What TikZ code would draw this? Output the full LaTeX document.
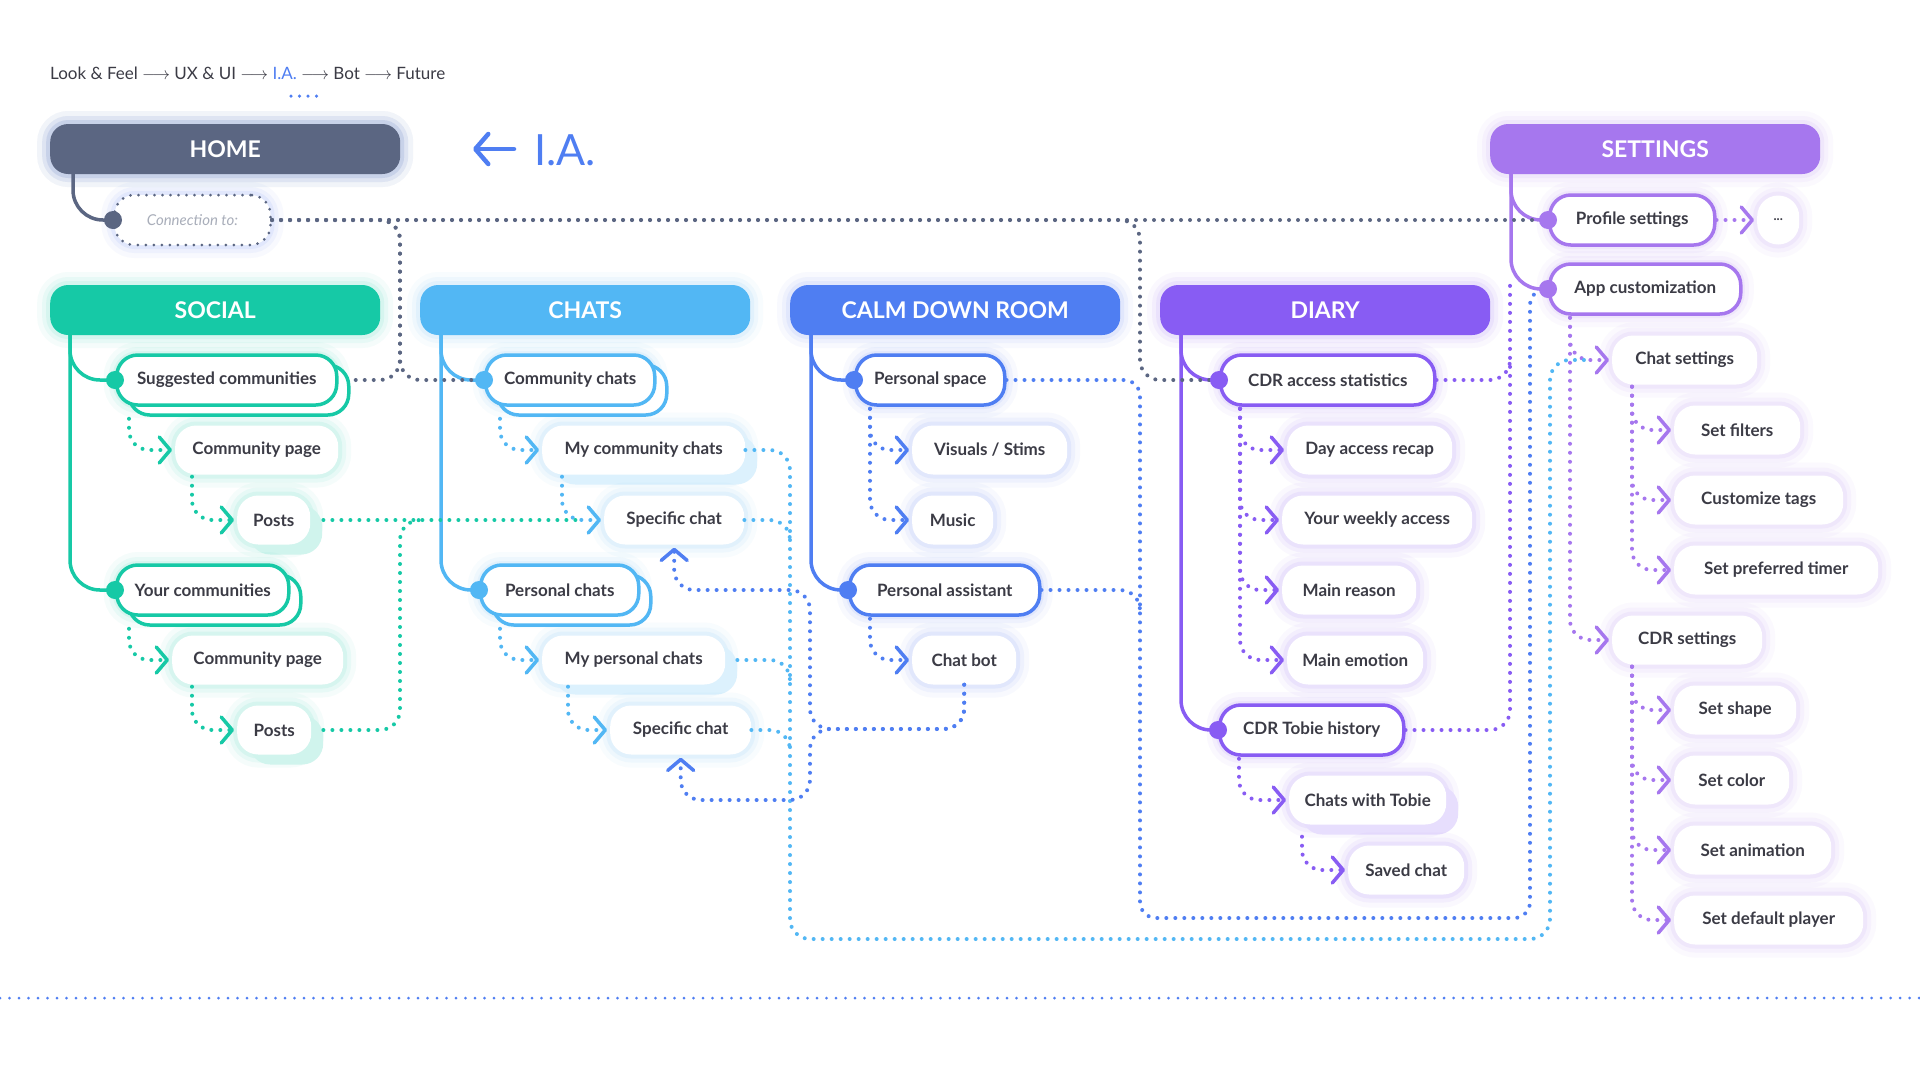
\documentclass[tikz,border=0pt]{standalone}
\usepackage{fontspec}
\setmainfont{Lato}
\usetikzlibrary{arrows.meta,shadows}

\definecolor{homec}{HTML}{5B6682}
\definecolor{socialc}{HTML}{16C9A6}
\definecolor{chatsc}{HTML}{52B7F4}
\definecolor{calmc}{HTML}{4F7EF2}
\definecolor{diaryc}{HTML}{885CF3}
\definecolor{setc}{HTML}{A677EE}
\definecolor{txt}{HTML}{3B3B45}
\definecolor{connt}{HTML}{A9AEBA}

\newcommand\hdrfont{\fontsize{23}{23}\selectfont\bfseries}
\newcommand\lblfont{\fontsize{17}{17}\selectfont\bfseries}

\tikzset{
  glow/.style={preaction={draw=#1, solid, line width=26pt, opacity=.04},
    preaction={draw=#1, solid, line width=16pt, opacity=.06},
    preaction={draw=#1, solid, line width=8pt, opacity=.08}},
  hdr/.style={fill=#1, glow=#1, rounded corners=18pt, anchor=west,
    minimum width=330pt, minimum height=50pt, text=white, font=\hdrfont},
  lvA/.style={draw=#1, line width=3.5pt, fill=white, glow=#1, rounded corners=21pt,
    anchor=west, minimum height=50pt, text=txt, font=\lblfont},
  lvB/.style={fill=white, glow=#1, rounded corners=21pt, anchor=west,
    minimum height=49pt, text=txt, font=\lblfont},
  stackA/.style={copy shadow={shadow xshift=12pt, shadow yshift=-10pt}},
  stackB/.style={copy shadow={shadow xshift=12pt, shadow yshift=-10pt, draw=none, fill=#1!20}},
  stem/.style={draw=#1, line width=3.5pt, rounded corners=30pt},
  dotln/.style={draw=#1, line width=4pt, line cap=round, dash pattern=on 0pt off 9pt},
  sub/.style={dotln=#1, ->, rounded corners=20pt},
}

\begin{document}
\begin{tikzpicture}[x=1pt, y=-1pt, >={Straight Barb[length=11pt,width=26pt,line width=3.5pt,round]}]
\useasboundingbox (0,0) rectangle (1920,1080);
\fill[white] (0,0) rectangle (1920,1080);

% top line
\node[anchor=west, inner sep=0pt, text=txt, font=\fontsize{17}{17}\selectfont] (crumb) at (50,73)
  {Look \& Feel $\longrightarrow$ UX \& UI $\longrightarrow$ \textcolor{calmc}{I.A.} $\longrightarrow$ Bot $\longrightarrow$ Future};
\draw[dotln=calmc, line width=3.5pt, dash pattern=on 0pt off 8.5pt] (291,96) -- (317,96);

\node[anchor=west, inner sep=0pt, text=calmc, font=\fontsize{43}{43}\selectfont] (ia) at (534,150) {I.A.};
\coordinate (ial) at (473,149);
\coordinate (iar) at (514,149);
\draw[calmc, line width=4.5pt, line cap=round, {Straight Barb[length=13pt,width=30pt,line width=4.5pt,round]}-] (ial) -- (iar);

% headers
\node[hdr=homec, glow=calmc, minimum width=350pt] (home) at (50,149) {HOME};
\node[hdr=setc] (settings) at (1490,149) {SETTINGS};
\node[hdr=socialc] (social) at (50,310) {SOCIAL};
\node[hdr=chatsc] (chats) at (420,310) {CHATS};
\node[hdr=calmc] (calm) at (790,310) {CALM DOWN ROOM};
\node[hdr=diaryc] (diary) at (1160,310) {DIARY};

\node[draw=homec, line width=3pt, line cap=round, dash pattern=on 0pt off 8pt, fill=white, glow=calmc,
  rounded corners=20pt, anchor=west, minimum width=156pt, minimum height=50pt, text=connt,
  font=\fontsize{15}{15}\selectfont\itshape] (conn) at (113,220) {Connection to:};

% social
\node[lvA=socialc, stackA, minimum width=220pt] (sugg) at (115,380) {Suggested communities};
\node[lvB=socialc, minimum width=163pt] (scp1) at (175,450) {Community page};
\node[lvB=socialc, stackB=socialc, minimum width=73pt] (spo1) at (237,520) {Posts};
\node[lvA=socialc, stackA, minimum width=172pt] (your) at (115,590) {Your communities};
\node[lvB=socialc, minimum width=171pt] (scp2) at (172,660) {Community page};
\node[lvB=socialc, stackB=socialc, minimum width=74pt] (spo2) at (237,730) {Posts};

% chats
\node[lvA=chatsc, stackA, minimum width=169pt] (ccom) at (484,380) {Community chats};
\node[lvB=chatsc, stackB=chatsc, minimum width=203pt] (cmy) at (542,450) {My community chats};
\node[lvB=chatsc, minimum width=140pt] (csp1) at (604,520) {Specific chat};
\node[lvA=chatsc, stackA, minimum width=158pt] (cper) at (479,590) {Personal chats};
\node[lvB=chatsc, stackB=chatsc, minimum width=183pt] (cmyp) at (542,660) {My personal chats};
\node[lvB=chatsc, minimum width=141pt] (csp2) at (610,730) {Specific chat};

% calm down room
\node[lvA=calmc, minimum width=149pt] (cps) at (854,380) {Personal space};
\node[lvB=calmc, minimum width=155pt] (cvis) at (912,450) {Visuals / Stims};
\node[lvB=calmc, minimum width=81pt] (cmus) at (912,520) {Music};
\node[lvA=calmc, minimum width=190pt] (cpa) at (848,590) {Personal assistant};
\node[lvB=calmc, minimum width=104pt] (cbot) at (912,660) {Chat bot};

% diary
\node[lvA=diaryc, minimum width=214pt] (dstat) at (1219,380) {CDR access statistics};
\node[lvB=diaryc, minimum width=165pt] (dday) at (1287,450) {Day access recap};
\node[lvB=diaryc, minimum width=190pt] (dweek) at (1282,520) {Your weekly access};
\node[lvB=diaryc, minimum width=134pt] (dreas) at (1282,590) {Main reason};
\node[lvB=diaryc, minimum width=136pt] (demo) at (1287,660) {Main emotion};
\node[lvA=diaryc, minimum width=184pt] (dtob) at (1218,730) {CDR Tobie history};
\node[lvB=diaryc, stackB=diaryc, minimum width=157pt] (dchat) at (1289,800) {Chats with Tobie};
\node[lvB=diaryc, minimum width=116pt] (dsave) at (1348,870) {Saved chat};

% settings
\node[lvA=setc, minimum width=165pt] (prof) at (1548,220) {Profile settings};
\node[lvB=setc, minimum width=42pt, font=\fontsize{13}{13}\selectfont\bfseries] (more) at (1757,220) {...};
\node[lvA=setc, minimum width=191pt] (appc) at (1548,289) {App customization};
\node[lvB=setc, minimum width=145pt] (chatset) at (1612,360) {Chat settings};
\node[lvB=setc, minimum width=126pt] (filt) at (1674,430) {Set filters};
\node[lvB=setc, minimum width=169pt] (tags) at (1674,500) {Customize tags};
\node[lvB=setc, minimum width=204pt] (timer) at (1674,570) {Set preferred timer};
\node[lvB=setc, minimum width=150pt] (cdrset) at (1612,640) {CDR settings};
\node[lvB=setc, minimum width=122pt] (shape) at (1674,710) {Set shape};
\node[lvB=setc, minimum width=115pt] (color) at (1674,780) {Set color};
\node[lvB=setc, minimum width=157pt] (anim) at (1674,850) {Set animation};
\node[lvB=setc, minimum width=189pt] (player) at (1674,920) {Set default player};

% junctions
\coordinate (gj1) at (400,380);
\coordinate (gj2) at (1140,380);
\coordinate (tj1) at (400,520);
\coordinate (tj2) at (422,520);
\coordinate (bj1) at (1140,918);
\coordinate (bj2) at (1530,289);
\coordinate (bj3) at (1140,610);
\coordinate (cj1) at (810,729);
\coordinate (cj2) at (810,590);
\coordinate (cj3) at (810,800);
\coordinate (lb1) at (790,939);
\coordinate (lb2) at (1550,360);
\coordinate (lbj1) at (790,540);
\coordinate (lbj2) at (790,680);
\coordinate (lbj3) at (790,750);
\coordinate (pj1) at (1510,280);
\coordinate (pj2) at (1510,360);

% stems
\draw[stem=homec] ([xshift=23pt]home.south west) |- (conn.west);
\draw[stem=socialc] ([xshift=20pt]social.south west) |- (sugg.west);
\draw[stem=socialc] ([xshift=20pt]social.south west) |- (your.west);
\draw[stem=chatsc] ([xshift=21pt]chats.south west) |- (ccom.west);
\draw[stem=chatsc] ([xshift=21pt]chats.south west) |- (cper.west);
\draw[stem=calmc] ([xshift=21pt]calm.south west) |- (cps.west);
\draw[stem=calmc] ([xshift=21pt]calm.south west) |- (cpa.west);
\draw[stem=diaryc] ([xshift=21pt]diary.south west) |- (dstat.west);
\draw[stem=diaryc] ([xshift=21pt]diary.south west) |- (dtob.west);
\draw[stem=setc] ([xshift=21pt]settings.south west) |- (prof.west);
\draw[stem=setc] ([xshift=21pt]settings.south west) |- (appc.west);

% sub pages
\draw[sub=socialc] ([shift={(14pt,-12pt)}]sugg.south west) |- ([xshift=-3pt]scp1.west);
\draw[sub=socialc] ([shift={(17pt,-2pt)}]scp1.south west) |- ([xshift=-3pt]spo1.west);
\draw[sub=socialc] ([shift={(14pt,-12pt)}]your.south west) |- ([xshift=-3pt]scp2.west);
\draw[sub=socialc] ([shift={(20pt,-2pt)}]scp2.south west) |- ([xshift=-3pt]spo2.west);

\draw[sub=chatsc] ([shift={(16pt,-12pt)}]ccom.south west) |- ([xshift=-3pt]cmy.west);
\draw[sub=chatsc] ([shift={(20pt,-2pt)}]cmy.south west) |- ([xshift=-3pt]csp1.west);
\draw[sub=chatsc] ([shift={(21pt,-12pt)}]cper.south west) |- ([xshift=-3pt]cmyp.west);
\draw[sub=chatsc] ([shift={(26pt,-2pt)}]cmyp.south west) |- ([xshift=-3pt]csp2.west);

\draw[sub=calmc] ([shift={(16pt,-2pt)}]cps.south west) |- ([xshift=-3pt]cvis.west);
\draw[sub=calmc] ([shift={(16pt,-2pt)}]cps.south west) |- ([xshift=-3pt]cmus.west);
\draw[sub=calmc] ([shift={(22pt,-2pt)}]cpa.south west) |- ([xshift=-3pt]cbot.west);

\foreach \n in {dday,dweek,dreas,demo}
  \draw[sub=diaryc] ([shift={(21pt,-2pt)}]dstat.south west) |- ([xshift=-3pt]\n.west);
\draw[sub=diaryc] ([shift={(21pt,-2pt)}]dtob.south west) |- ([xshift=-3pt]dchat.west);
\draw[sub=diaryc] ([shift={(13pt,-12pt)}]dchat.south west) |- ([xshift=-3pt]dsave.west);

\draw[dotln=setc, ->] (prof.east) -- ([xshift=-3pt]more.west);
\draw[sub=setc] ([shift={(22pt,-2pt)}]appc.south west) |- ([xshift=-3pt]chatset.west);
\draw[sub=setc] ([shift={(22pt,-2pt)}]appc.south west) |- ([xshift=-3pt]cdrset.west);
\foreach \n in {filt,tags,timer}
  \draw[sub=setc] ([shift={(20pt,-2pt)}]chatset.south west) |- ([xshift=-3pt]\n.west);
\foreach \n in {shape,color,anim,player}
  \draw[sub=setc] ([shift={(20pt,-2pt)}]cdrset.south west) |- ([xshift=-3pt]\n.west);

% links between sections
\draw[dotln=homec] (conn.east) -- (prof.west);
\draw[dotln=homec, rounded corners=20pt] (conn.east) -| (gj1) -- ([xshift=12pt]sugg.east);
\draw[dotln=homec, rounded corners=20pt] (conn.east) -| (gj1) -- (ccom.west);
\draw[dotln=homec, rounded corners=20pt] (conn.east) -| (gj2) -- (dstat.west);

\draw[dotln=socialc] ([xshift=13pt]spo1.east) -- ([xshift=-20pt]csp1.west);
\draw[dotln=socialc, rounded corners=20pt] ([xshift=12pt]spo2.east) -| (tj1) -- (tj2);

\draw[dotln=chatsc, rounded corners=20pt] (cmy.east) -| (lb1) -| (lb2) -- ([xshift=-22pt]chatset.west);
\draw[dotln=chatsc, rounded corners=20pt] (csp1.east) -| (lbj1);
\draw[dotln=chatsc, rounded corners=20pt] ([xshift=12pt]cmyp.east) -| (lbj2);
\draw[dotln=chatsc, rounded corners=20pt] (csp2.east) -| (lbj3);

\draw[dotln=calmc, rounded corners=16pt] (cps.east) -| (bj1) -| (bj2) -- (appc.west);
\draw[dotln=calmc, rounded corners=20pt] (cpa.east) -| (bj3);
\draw[dotln=calmc, ->, rounded corners=20pt] (cbot.south) |- (cj1) -- (cj2) -| ([yshift=-3pt]csp1.south);
\draw[dotln=calmc, ->, rounded corners=20pt] (cbot.south) |- (cj1) -- (cj3) -| ([yshift=-3pt]csp2.south);

\draw[dotln=diaryc, rounded corners=20pt] (dtob.east) -| (pj1);
\draw[dotln=diaryc, rounded corners=20pt] (dstat.east) -| (pj2);

% dots on the stems
\foreach \n/\c in {conn/homec,sugg/socialc,your/socialc,ccom/chatsc,cper/chatsc,cps/calmc,cpa/calmc,
  dstat/diaryc,dtob/diaryc,prof/setc,appc/setc}
  \fill[\c] (\n.west) circle[radius=9pt];

% bottom line
\draw[dotln=calmc, line width=3pt, dash pattern=on 0pt off 9.5pt] (0,998) -- (1920,998);
\end{tikzpicture}
\end{document}
